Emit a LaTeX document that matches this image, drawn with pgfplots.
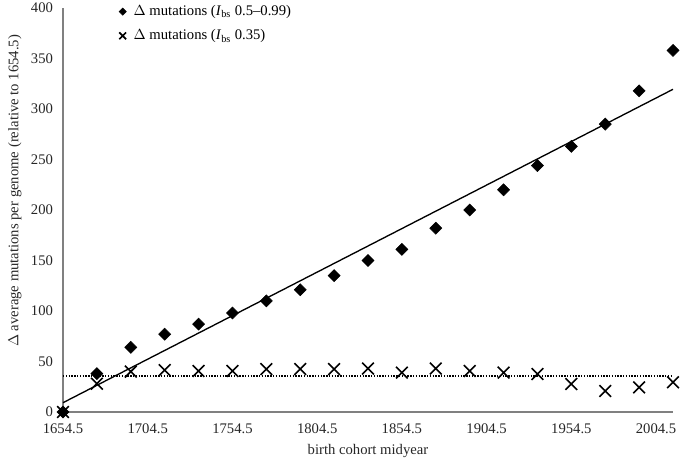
\documentclass[border=0pt]{standalone}
\usepackage{fontspec}
\setmainfont{Liberation Serif}
\usepackage{pgfplots}
\pgfplotsset{compat=1.18}
\usetikzlibrary{calc}
\newcommand{\chf}{\fontsize{11}{13.2}\selectfont}
\begin{document}
\begin{tikzpicture}[x=0.75pt,y=0.75pt]
\begin{axis}[
  name=ax,
  scale only axis,
  width=457.5pt, height=303pt,
  xmin=1654.5, xmax=2014.5, ymin=0, ymax=400,
  clip=false,
  axis lines*=left,
  axis line style={draw=black!50, line width=0.8pt},
  major tick length=0pt,
  xtick={1654.5,1704.5,1754.5,1804.5,1854.5,1904.5,1954.5,2004.5},
  xticklabels={1654.5,1704.5,1754.5,1804.5,1854.5,1904.5,1954.5,2004.5},
  ytick={0,50,100,150,200,250,300,350,400},
  /pgf/number format/assume math mode=true,
  tick label style={font=\chf, text=black!85},
  yticklabel style={xshift=-4pt},
  xticklabel style={yshift=-5pt},
  xlabel={birth cohort midyear},
  ylabel={$\Delta$ average mutations per genome (relative to 1654.5)},
  xlabel style={font=\chf, text=black!85, at={(axis description cs:0.5,-0.097)}, anchor=center},
  ylabel style={font=\chf, text=black!85, at={(axis description cs:-0.079,0.547)}, anchor=center},
  legend style={draw=none, fill=none, font=\chf, at={(axis description cs:0.085,1.02)}, anchor=north west, row sep=5pt},
  legend cell align=left,
]
\addplot[only marks, mark=square*, mark size=3.2pt, mark options={rotate=45, fill=black, draw=black},
  legend image code/.code={\draw[mark=square*, mark size=1.9pt, mark options={rotate=45, fill=black, draw=black}] plot coordinates {(0.12cm,0cm)}; \path (0.12cm,0) ++(6pt,0);}] coordinates {
(1654.5,0) (1674.5,38) (1694.5,64) (1714.5,77) (1734.5,87) (1754.5,98)
(1774.5,110) (1794.5,121) (1814.5,135) (1834.5,150) (1854.5,161) (1874.5,182)
(1894.5,200) (1914.5,220) (1934.5,244) (1954.5,263) (1974.5,285) (1994.5,318)
(2014.5,358)};
\addlegendentry{$\Delta$ mutations (\textit{I}\textsubscript{bs} 0.5–0.99)}
\addplot[only marks, mark=x, mark size=6.2pt, mark options={line width=1.2pt, draw=black},
  legend image code/.code={\draw[mark=x, mark size=3.6pt, mark options={line width=1.3pt, draw=black}] plot coordinates {(0.12cm,0cm)}; \path (0.12cm,0) ++(6pt,0);}] coordinates {
(1654.5,0) (1674.5,28) (1694.5,40) (1714.5,41.5) (1734.5,40.6) (1754.5,40.6)
(1774.5,42.5) (1794.5,42.5) (1814.5,42.5) (1834.5,43) (1854.5,39) (1874.5,43)
(1894.5,40.6) (1914.5,39) (1934.5,37.6) (1954.5,27.7) (1974.5,20.8) (1994.5,24.4)
(2014.5,29.4)};
\addlegendentry{$\Delta$ mutations (\textit{I}\textsubscript{bs} 0.35)}
\addplot[forget plot, black, line width=1pt] coordinates {(1654.5,9.2) (2014.5,319.5)};
\addplot[forget plot, black, line width=1.1pt, densely dotted] coordinates {(1654.5,35.5) (2014.5,35.5)};
\end{axis}
\pgfresetboundingbox
\path ($(ax.south west)+(-63,-46)$) rectangle ($(ax.north east)+(7,8)$);
\end{tikzpicture}
\end{document}
